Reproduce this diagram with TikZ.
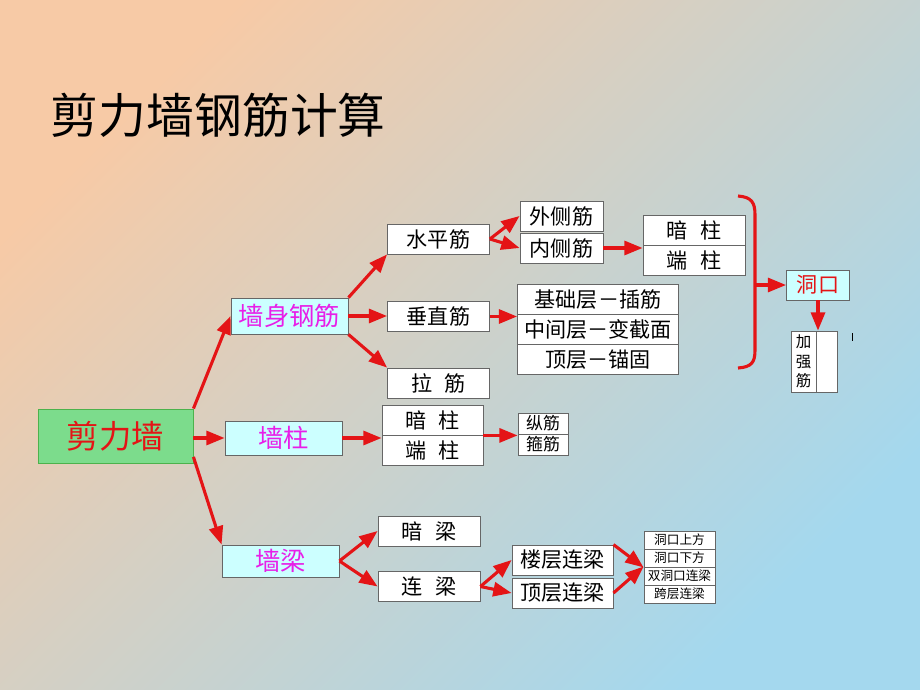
\documentclass[tikz,border=0pt]{standalone}
\usepackage{fontspec}
\setmainfont{Noto Sans CJK SC}
\usetikzlibrary{positioning,arrows.meta}
\definecolor{peach}{RGB}{247,202,166}
\definecolor{skyblu}{RGB}{164,216,238}
\definecolor{arrred}{RGB}{228,20,22}
\definecolor{boxgreen}{RGB}{124,220,140}
\definecolor{boxcyan}{RGB}{204,255,255}
\definecolor{txtmag}{RGB}{232,30,232}
\tikzset{
  box/.style={draw=gray!80!black, line width=0.6pt, fill=white, inner sep=0pt,
    minimum height=0.75cm, font=\fontsize{15}{18}\selectfont},
  cbox/.style={box, fill=boxcyan, text=txtmag, minimum width=2.925cm,
    minimum height=0.85cm, font=\fontsize{18}{21}\selectfont},
  smallbox/.style={box, minimum width=1.775cm, minimum height=0.45cm,
    font=\fontsize{9}{10}\selectfont},
  arr/.style={draw=arrred, line width=2.2pt, -{Triangle[length=13pt,width=10pt]}},
}
\newcommand{\gap}{\hspace{0.6em}}

\begin{document}
\begin{tikzpicture}[x=0.025cm,y=-0.025cm]
  \shade[top color=peach,bottom color=skyblu,shading angle=45] (0,0) rectangle (920,690);
  \node[anchor=west,font=\fontsize{34}{40}\selectfont] at(46,115)(title){剪力墙钢筋计算};

  \node[box,fill=boxgreen,draw=green!40!gray,text=arrred,minimum width=3.875cm,
    minimum height=1.35cm,font=\fontsize{23}{27}\selectfont] at(115.5,436)(jlq){剪力墙};
  \node[cbox,minimum height=0.9cm] at(289.5,316)(qsgj){墙身钢筋};
  \node[cbox] at(283.5,438)(qz){墙柱};
  \node[cbox,minimum height=0.8cm] at(280.5,561)(ql){墙梁};

  % wall body
  \node[box,minimum width=2.55cm] at(438.5,239)(spj){水平筋};
  \node[box,minimum width=2.55cm] at(438.5,316.5)(czj){垂直筋};
  \node[box,minimum width=2.55cm] at(438.5,383)(lj){拉\gap 筋};

  \node[box,minimum width=2.075cm] at(561.5,216)(wcj){外侧筋};
  \node[box,minimum width=2.075cm] at(561.5,248)(ncj){内侧筋};

  \node[box,minimum width=2.55cm] at(694,230.5)(az1){暗\gap 柱};
  \node[box,minimum width=2.55cm] at(694,260.5)(dz1){端\gap 柱};

  \node[box,minimum width=4.025cm] at(598,299.5)(jcc){基础层－插筋};
  \node[box,minimum width=4.025cm] at(598,329.5)(zjc){中间层－变截面};
  \node[box,minimum width=4.025cm] at(598,359.5)(dc){顶层－锚固};

  \draw[arrred,line width=2.2pt] (738,196) .. controls (752,197) and (755,203) .. (755,215)
    -- (755,350) .. controls (755,362) and (752,367) .. (738,368);
  \coordinate (brk) at(755,285);

  \node[box,fill=boxcyan,text=arrred,minimum width=1.575cm] at(818,285)(dk){洞口};
  \node[box,minimum width=0.625cm,minimum height=1.525cm,align=center,
    font=\fontsize{11}{14}\selectfont] at(803.5,361.5)(jqjl){加\\强\\筋};
  \node[box,minimum width=0.525cm,minimum height=1.525cm] at(826.5,361.5)(jqjr){};
  \draw[line width=0.6pt] (852,333) -- (852,341);

  % wall column
  \node[box,minimum width=2.525cm] at(432.5,420)(az2){暗\gap 柱};
  \node[box,minimum width=2.525cm] at(432.5,450.5)(dz2){端\gap 柱};
  \node[box,minimum width=1.25cm,minimum height=0.525cm,font=\fontsize{12}{14}\selectfont] at(543,423.5)(zj){纵筋};
  \node[box,minimum width=1.25cm,minimum height=0.525cm,font=\fontsize{12}{14}\selectfont] at(543,444.5)(gj){箍筋};

  % wall beam
  \node[box,minimum width=2.55cm] at(429,531)(al){暗\gap 梁};
  \node[box,minimum width=2.55cm] at(429,586.5)(lian){连\gap 梁};
  \node[box,minimum width=2.525cm] at(562.5,560)(lclil){楼层连梁};
  \node[box,minimum width=2.525cm] at(562.5,593)(dclil){顶层连梁};

  \node[smallbox] at(679.5,540)(l1){洞口上方};
  \node[smallbox] at(679.5,558)(l2){洞口下方};
  \node[smallbox] at(679.5,576)(l3){双洞口连梁};
  \node[smallbox] at(679.5,594)(l4){跨层连梁};

  % arrows
  \draw[arr] (jlq.north east) -- (qsgj.west);
  \draw[arr] (jlq.east |- qz) -- (qz.west);
  \draw[arr] (jlq.-15) -- (ql.north west);

  \draw[arr] (qsgj.north east) -- (spj.south west);
  \draw[arr] (qsgj.east) -- (qsgj.east -| czj.west);
  \draw[arr] (qsgj.south east) -- (lj.north west);
  \draw[arr] (spj.east) -- (wcj.west);
  \draw[arr] (spj.east) -- (ncj.west);
  \draw[arr] (ncj.east) -- (ncj.east -| az1.west);
  \draw[arr] (czj.east) -- (czj.east -| zjc.west);
  \draw[arr] (brk) -- (dk.west);
  \draw[arr] (dk.south) -- (dk.south |- jqjl.north);

  \draw[arr] (qz.east) -- (qz.east -| az2.west);
  \draw[arr] (az2.south east) -- (az2.south east -| zj.west);

  \draw[arr] (ql.east) -- (al.west);
  \draw[arr] (ql.east) -- (lian.west);
  \draw[arr] (lian.east) -- (lclil.west);
  \draw[arr] (lian.east) -- (dclil.west);
  \draw[arr] (lclil.north east) -- (l2.south west);
  \draw[arr] (dclil.east) -- (l3.north west);
\end{tikzpicture}
\end{document}
